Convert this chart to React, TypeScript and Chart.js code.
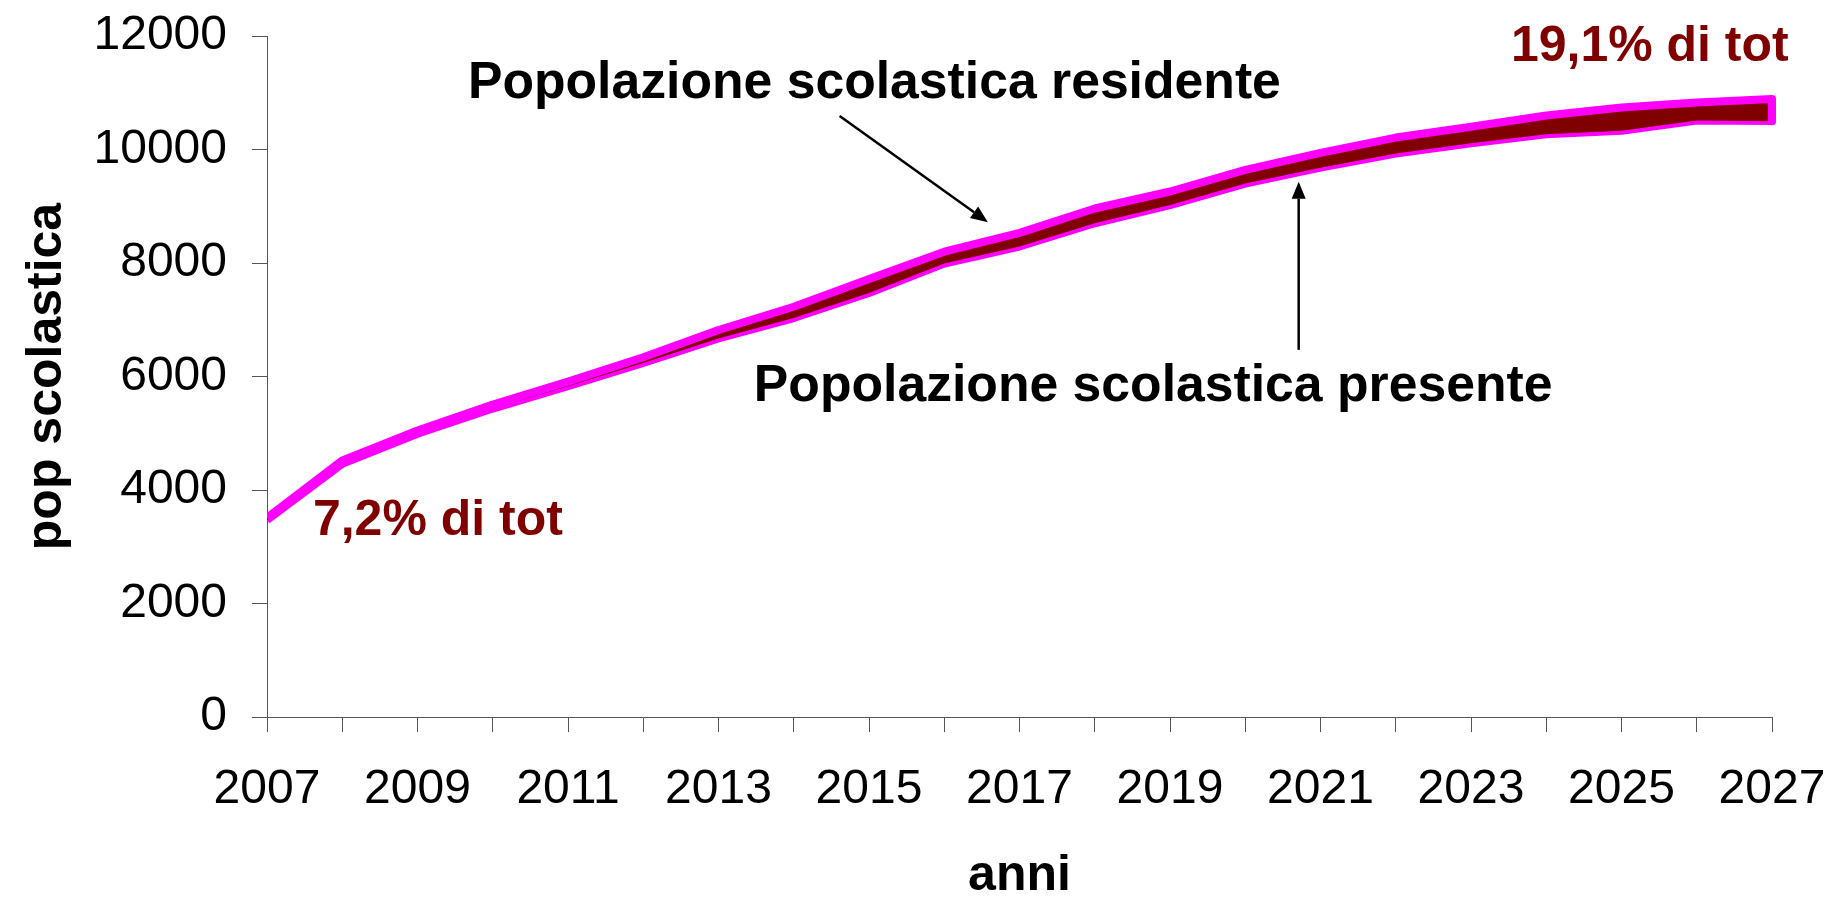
import React, { useEffect, useRef } from "react";
import { Chart, registerables } from "chart.js";

Chart.register(...registerables);

const years = [
  "2007", "2008", "2009", "2010", "2011", "2012", "2013", "2014", "2015", "2016", "2017",
  "2018", "2019", "2020", "2021", "2022", "2023", "2024", "2025", "2026", "2027",
];

const residente = [
  3510, 4520, 5050, 5505, 5910, 6340, 6820, 7230, 7720, 8200, 8530,
  8960, 9260, 9640, 9940, 10210, 10400, 10600, 10740, 10830, 10890,
];

const presente = [
  3470, 4460, 4990, 5435, 5830, 6240, 6670, 7030, 7470, 7990, 8290,
  8700, 9020, 9400, 9680, 9930, 10110, 10270, 10330, 10510, 10500,
];

const yMin = 0;
const yMax = 12000;
const yStep = 2000;

const yTitle = "pop scolastica";
const xTitle = "anni";

// annotation texts anchored in data units (x = category index, y = value, baseline)
const noteTexts = ["Popolazione scolastica residente", "Popolazione scolastica presente", "7,2% di tot", "19,1% di tot"];
const noteX = [2.67, 6.47, 0.61, 16.53];
const noteY = [10900, 5570, 3210, 11560];
const noteColors = ["#000000", "#000000", "#800000", "#800000"];
const noteSizes = [51.7, 51.7, 50, 50];

// arrows in data units: [fromIndex, fromValue, toIndex, toValue]
const arrowFrom = [[7.61, 10590], [13.71, 6470]];
const arrowTo = [[9.58, 8720], [13.71, 9430]];

const FONT = "'Liberation Sans', Arial, Helvetica, sans-serif";
const MAGENTA = "#FF00FF";
const DARKRED = "#800000";
const AXIS = "#555555";
const LINE_W = 8;

const overlayPlugin = {
  id: "overlay",
  afterDatasetsDraw(chart: any) {
    const { ctx, scales } = chart;
    const x = scales.x;
    const y = scales.y;
    const last = years.length - 1;
    const px = x.getPixelForValue(last);
    ctx.save();
    ctx.strokeStyle = MAGENTA;
    ctx.lineWidth = LINE_W;
    ctx.lineCap = "round";
    ctx.beginPath();
    ctx.moveTo(px, y.getPixelForValue(residente[last]));
    ctx.lineTo(px, y.getPixelForValue(presente[last]));
    ctx.stroke();
    ctx.restore();
  },
  afterDraw(chart: any) {
    const { ctx, scales } = chart;
    const x = scales.x;
    const y = scales.y;
    ctx.save();
    ctx.textAlign = "left";
    ctx.textBaseline = "alphabetic";
    for (let i = 0; i < noteTexts.length; i++) {
      ctx.font = `bold ${noteSizes[i]}px ${FONT}`;
      ctx.fillStyle = noteColors[i];
      ctx.fillText(noteTexts[i], x.getPixelForValue(noteX[i]), y.getPixelForValue(noteY[i]));
    }
    ctx.strokeStyle = "#000";
    ctx.fillStyle = "#000";
    ctx.lineWidth = 2.5;
    for (let i = 0; i < arrowFrom.length; i++) {
      const x0 = x.getPixelForValue(arrowFrom[i][0]);
      const y0 = y.getPixelForValue(arrowFrom[i][1]);
      const x1 = x.getPixelForValue(arrowTo[i][0]);
      const y1 = y.getPixelForValue(arrowTo[i][1]);
      const ang = Math.atan2(y1 - y0, x1 - x0);
      const headLen = 17;
      const headW = 7;
      const bx = x1 - headLen * Math.cos(ang);
      const by = y1 - headLen * Math.sin(ang);
      ctx.beginPath();
      ctx.moveTo(x0, y0);
      ctx.lineTo(bx, by);
      ctx.stroke();
      ctx.beginPath();
      ctx.moveTo(x1, y1);
      ctx.lineTo(bx + headW * Math.sin(ang), by - headW * Math.cos(ang));
      ctx.lineTo(bx - headW * Math.sin(ang), by + headW * Math.cos(ang));
      ctx.closePath();
      ctx.fill();
    }
    ctx.restore();
  },
};

export default function App() {
  const canvasRef = useRef<HTMLCanvasElement | null>(null);

  useEffect(() => {
    if (!canvasRef.current) return;
    const chart = new Chart(canvasRef.current, {
      type: "line",
      data: {
        labels: years,
        datasets: [
          {
            label: "Popolazione scolastica residente",
            data: residente,
            borderColor: MAGENTA,
            borderWidth: LINE_W,
            backgroundColor: DARKRED,
            fill: "+1",
            pointRadius: 0,
            tension: 0,
            borderJoinStyle: "round",
            clip: { left: 0, top: 10, right: 10, bottom: 0 } as any,
          },
          {
            label: "Popolazione scolastica presente",
            data: presente,
            borderColor: MAGENTA,
            borderWidth: LINE_W,
            backgroundColor: DARKRED,
            fill: false,
            pointRadius: 0,
            tension: 0,
            borderJoinStyle: "round",
            clip: { left: 0, top: 10, right: 10, bottom: 0 } as any,
          },
        ],
      },
      options: {
        responsive: false,
        animation: false,
        events: [],
        layout: { padding: { left: 0, right: 60, top: 36, bottom: 0 } },
        plugins: {
          legend: { display: false },
          tooltip: { enabled: false },
        },
        scales: {
          x: {
            type: "category",
            offset: false,
            afterFit: (s: any) => {
              s.height = 182;
              s.paddingLeft = 0;
              s.paddingRight = 0;
            },
            grid: {
              display: true,
              drawOnChartArea: false,
              drawTicks: true,
              tickLength: 15,
              color: AXIS,
              lineWidth: 1,
            },
            border: { display: true, color: AXIS, width: 1 },
            ticks: {
              autoSkip: false,
              maxRotation: 0,
              minRotation: 0,
              padding: 29,
              color: "#000",
              font: { family: FONT, size: 48 },
              callback: (_v: any, i: number) => (i % 2 === 0 ? years[i] : ""),
            },
            title: {
              display: true,
              text: xTitle,
              color: "#000",
              font: { family: FONT, size: 50, weight: "bold", lineHeight: 0.92 },
              padding: { top: 0, bottom: 0 },
            },
          },
          y: {
            min: yMin,
            max: yMax,
            afterFit: (s: any) => {
              s.width = 267;
              s.paddingTop = 0;
              s.paddingBottom = 0;
            },
            grid: {
              display: true,
              drawOnChartArea: false,
              drawTicks: true,
              tickLength: 15,
              color: AXIS,
              lineWidth: 1,
            },
            border: { display: true, color: AXIS, width: 1 },
            ticks: {
              stepSize: yStep,
              padding: 25,
              color: "#000",
              font: { family: FONT, size: 48 },
              callback: (v: any) => String(v),
            },
            title: {
              display: true,
              text: yTitle,
              color: "#000",
              font: { family: FONT, size: 50, weight: "bold" },
              padding: { top: 17, bottom: 0 },
            },
          },
        },
      },
      plugins: [overlayPlugin],
    });
    return () => chart.destroy();
  }, []);

  return (
    <div style={{ position: "absolute", left: 0, top: 0, width: 1832, height: 899, background: "#fff" }}>
      <canvas ref={canvasRef} width={1832} height={899} style={{ display: "block" }} />
    </div>
  );
}
